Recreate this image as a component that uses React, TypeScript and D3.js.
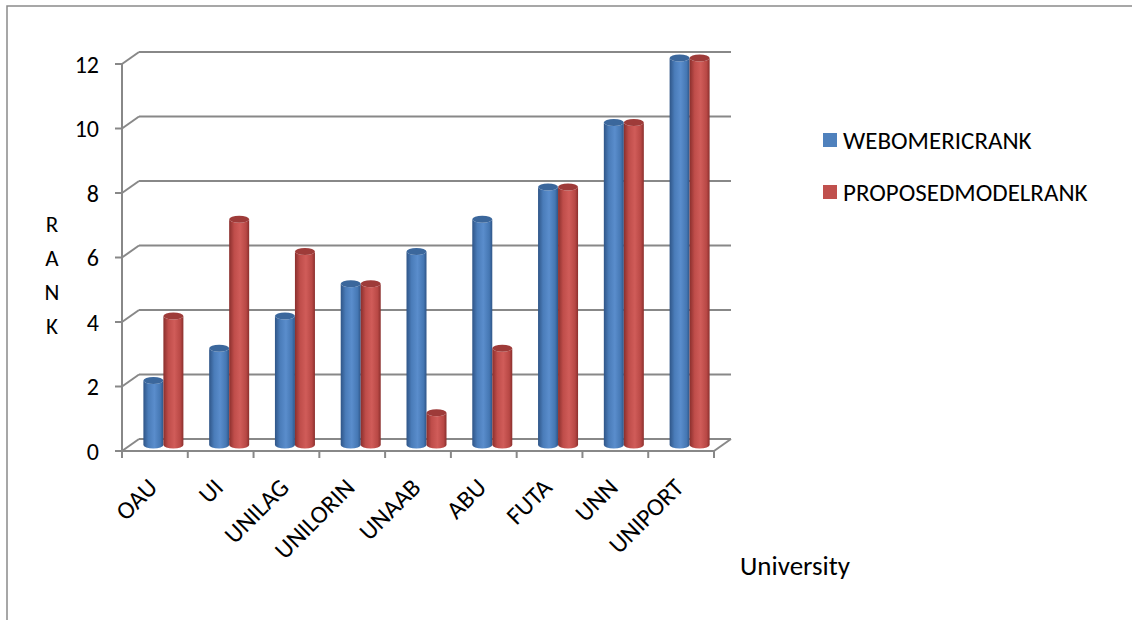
import React from "react";
import * as d3 from "d3";

const categories = ["OAU", "UI", "UNILAG", "UNILORIN", "UNAAB", "ABU", "FUTA", "UNN", "UNIPORT"];
const webometricRank = [2, 3, 4, 5, 6, 7, 8, 10, 12];
const proposedRank = [4, 7, 6, 5, 1, 3, 8, 10, 12];
const seriesNames = ["WEBOMERICRANK", "PROPOSEDMODELRANK"];
const yTicks = [0, 2, 4, 6, 8, 10, 12];

const FONT = "Carlito, Calibri, Lato, 'Open Sans', sans-serif";

export default function App() {
  const x0 = 122, x1 = 714;
  const dx = 17, dy = -12;
  const x = d3.scaleBand<string>().domain(categories).range([x0, x1]).padding(0);
  const y = d3.scaleLinear().domain([0, 12]).range([451, 64]);
  const grid = "#888888";
  const bw = 20;
  const ry = 3.5;
  const series = [
    { name: seriesNames[0], values: webometricRank, grad: "gb", top: "#3b679c", color: "#4F81BD" },
    { name: seriesNames[1], values: proposedRank, grad: "gr", top: "#9e3b39", color: "#C0504D" },
  ];

  const cyl = (cx0: number, cx1: number, yt: number, yb: number) => {
    const rx = (cx1 - cx0) / 2;
    return `M${cx0},${yt} L${cx0},${yb} A${rx},${ry} 0 0 0 ${cx1},${yb} L${cx1},${yt} A${rx},${ry} 0 0 1 ${cx0},${yt} Z`;
  };

  return (
    <svg width={1132} height={620} style={{ position: "absolute", left: 0, top: 0, background: "#fff" }} fontFamily={FONT}>
      <defs>
        <linearGradient id="gb" x1="0" x2="1" y1="0" y2="0">
          <stop offset="0" stopColor="#2f5587" />
          <stop offset="0.25" stopColor="#4a7cb9" />
          <stop offset="0.55" stopColor="#5a8dcc" />
          <stop offset="0.85" stopColor="#4577b3" />
          <stop offset="1" stopColor="#2f5587" />
        </linearGradient>
        <linearGradient id="gr" x1="0" x2="1" y1="0" y2="0">
          <stop offset="0" stopColor="#8a2f2d" />
          <stop offset="0.25" stopColor="#bf4d4a" />
          <stop offset="0.55" stopColor="#d05c59" />
          <stop offset="0.85" stopColor="#b84845" />
          <stop offset="1" stopColor="#8a2f2d" />
        </linearGradient>
      </defs>
      <rect x={7} y={6} width={1300} height={700} fill="none" stroke="#8a8a8a" strokeWidth={1.5} />

      {/* gridlines on back wall with diagonal to front */}
      {yTicks.map((t) => (
        <g key={t}>
          <line x1={x0 + dx} x2={x1 + dx} y1={y(t) + dy} y2={y(t) + dy} stroke={grid} strokeWidth={2} />
          <line x1={x0} x2={x0 + dx} y1={y(t)} y2={y(t) + dy} stroke={grid} strokeWidth={2} />
          <line x1={x0 - 7} x2={x0} y1={y(t)} y2={y(t)} stroke={grid} strokeWidth={2} />
          <text x={99} y={y(t)} textAnchor="end" dominantBaseline="central" fontSize={24} fill="#000">
            {t}
          </text>
        </g>
      ))}
      {/* floor */}
      <line x1={x0} x2={x1} y1={y(0)} y2={y(0)} stroke={grid} strokeWidth={2} />
      <line x1={x1} x2={x1 + dx} y1={y(0)} y2={y(0) + dy} stroke={grid} strokeWidth={2} />
      {/* vertical axis */}
      <line x1={x0} x2={x0} y1={y(12)} y2={y(0) + 1} stroke={grid} strokeWidth={2} />
      {/* x ticks */}
      {categories.concat([""]).map((c, i) => {
        const xx = x0 + x.bandwidth() * i;
        return <line key={i} x1={xx} x2={xx} y1={y(0)} y2={y(0) + 7} stroke={grid} strokeWidth={2} />;
      })}

      {/* bars */}
      {categories.map((c, i) => {
        const cx = (x(c) as number) + x.bandwidth() / 2 + dx / 2;
        const yb = y(0) + dy / 2;
        return (
          <g key={c}>
            {series.map((s, k) => {
              const bx0 = cx - bw + k * bw;
              const bx1 = bx0 + bw;
              const yt = y(s.values[i]) + dy / 2;
              return (
                <g key={s.name}>
                  <path d={cyl(bx0, bx1, yt, yb)} fill={`url(#${s.grad})`} />
                  <ellipse cx={(bx0 + bx1) / 2} cy={yt} rx={bw / 2} ry={ry} fill={s.top} />
                </g>
              );
            })}
          </g>
        );
      })}

      {/* x labels */}
      {categories.map((c) => {
        const cx = (x(c) as number) + x.bandwidth() / 2 - 2;
        const ly = 483;
        return (
          <text key={c} x={cx} y={ly} textAnchor="end" dominantBaseline="central" fontSize={25}
            transform={`rotate(-45, ${cx}, ${ly})`} fill="#000">
            {c}
          </text>
        );
      })}

      {/* y axis title */}
      {["R", "A", "N", "K"].map((ch, i) => (
        <text key={i} x={52} y={224 + i * 34} textAnchor="middle" dominantBaseline="central" fontSize={23} fill="#000">
          {ch}
        </text>
      ))}

      {/* x axis title */}
      <text x={740} y={575} fontSize={27} fill="#000">University</text>

      {/* legend */}
      {series.map((s, k) => (
        <g key={s.name}>
          <rect x={823} y={133 + k * 52} width={14} height={14} fill={s.color} />
          <text x={843} y={140 + k * 52} dominantBaseline="central" fontSize={25} fill="#000">
            {s.name}
          </text>
        </g>
      ))}
    </svg>
  );
}
